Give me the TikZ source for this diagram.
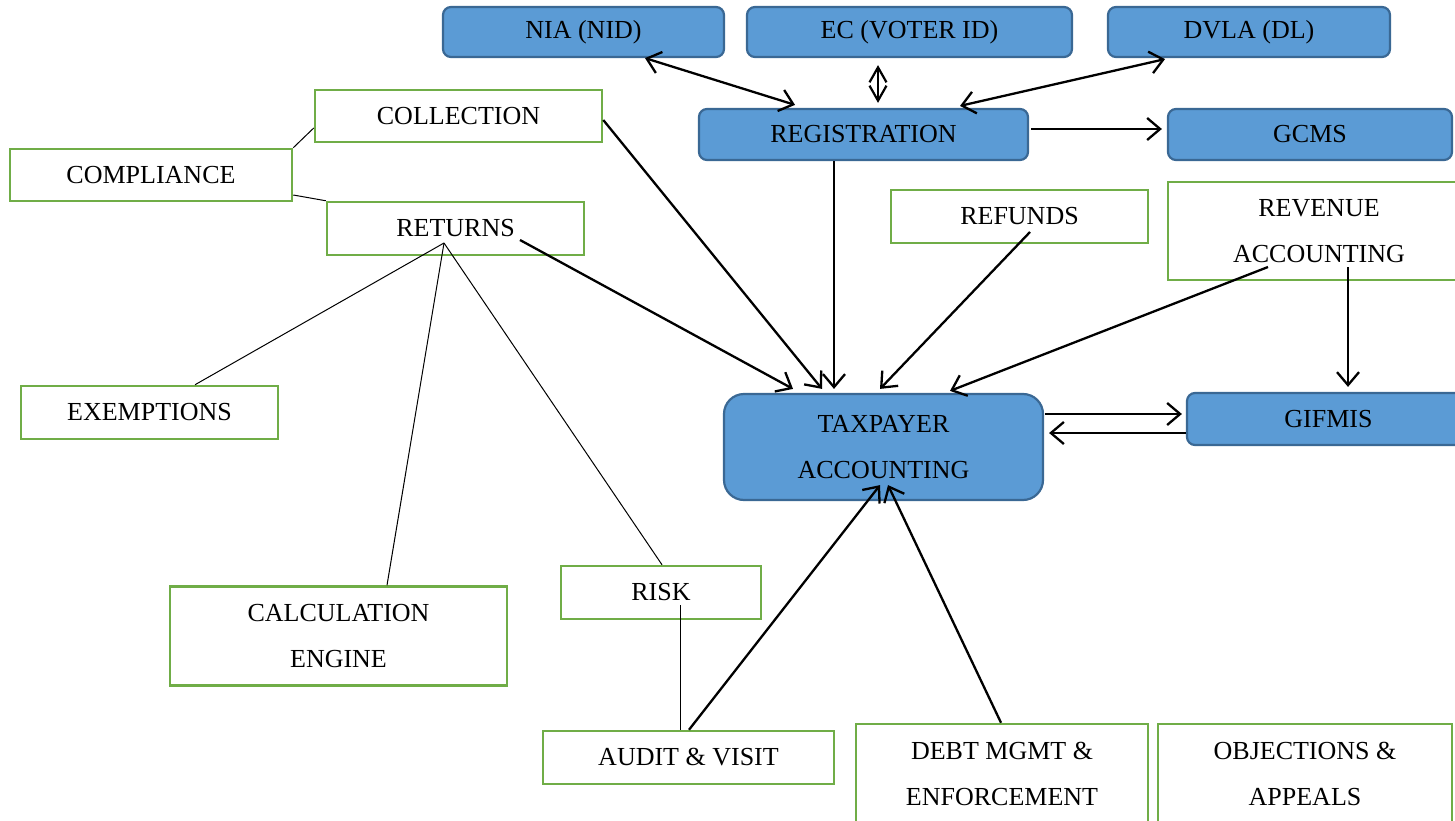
\documentclass[tikz,border=0pt]{standalone}
\usepackage{fontspec}
\setmainfont{Liberation Serif}
\usetikzlibrary{arrows.meta,calc}
\definecolor{bfill}{HTML}{5B9BD5}
\definecolor{bdraw}{HTML}{3A6894}
\definecolor{gdraw}{HTML}{70AD47}
\begin{document}
\begin{tikzpicture}[x=1pt,y=-1pt,
  every node/.style={font=\fontsize{26}{46}\selectfont, inner sep=0pt, align=center},
  bluebox/.style={draw=bdraw, fill=bfill, line width=2.2pt, rounded corners=8pt},
  greenbox/.style={draw=gdraw, fill=white, line width=2.5pt},
  arr/.style={line width=2.3pt, -{Straight Barb[length=13pt,width=22pt]}},
  darr/.style={line width=2.3pt, {Straight Barb[length=13pt,width=22pt]}-{Straight Barb[length=13pt,width=22pt]}},
  narr/.style={line width=2.2pt, {Straight Barb[length=15pt,width=17pt]}-{Straight Barb[length=15pt,width=17pt]}},
  thin/.style={line width=1pt}]
\clip (0,0) rectangle (1455,821);
\fill[white] (0,0) rectangle (1455,821);
% blue boxes
\node[bluebox, minimum width=281pt, minimum height=50pt] (nia) at (583.5,32) {NIA (NID)};
\node[bluebox, minimum width=325pt, minimum height=50pt] (ec) at (909.5,32) {EC (VOTER ID)};
\node[bluebox, minimum width=282pt, minimum height=50pt] (dvla) at (1249,32) {DVLA (DL)};
\node[bluebox, minimum width=329pt, minimum height=51pt] (reg) at (863.5,134.5) {REGISTRATION};
\node[bluebox, minimum width=284pt, minimum height=51pt] (gcms) at (1310,134.5) {GCMS};
\node[bluebox, rounded corners=20pt, minimum width=319pt, minimum height=106pt] (tax) at (883.5,447) {TAXPAYER\\ACCOUNTING};
\node[bluebox, minimum width=283pt, minimum height=52pt] (gif) at (1328.5,419) {GIFMIS};
% green boxes
\node[greenbox, minimum width=287pt, minimum height=52pt] (coll) at (458.5,116) {COLLECTION};
\node[greenbox, minimum width=282pt, minimum height=52pt] (comp) at (151,175) {COMPLIANCE};
\node[greenbox, minimum width=257pt, minimum height=53pt] (ret) at (455.5,228.5) {RETURNS};
\node[greenbox, minimum width=257pt, minimum height=53pt] (ref) at (1019.5,216.5) {REFUNDS};
\node[greenbox, minimum width=302pt, minimum height=98pt, text width=302pt] (rev) at (1319,231) {REVENUE\\ACCOUNTING};
\node[greenbox, minimum width=257pt, minimum height=53pt] (exem) at (149.5,412.5) {EXEMPTIONS};
\node[greenbox, minimum width=337pt, minimum height=99pt] (calc) at (338.5,636) {CALCULATION\\ENGINE};
\node[greenbox, minimum width=200pt, minimum height=53pt] (risk) at (661,592.5) {RISK};
\node[greenbox, minimum width=291pt, minimum height=53pt] (audit) at (688.5,757.5) {AUDIT \& VISIT};
\node[greenbox, minimum width=292pt, minimum height=100pt] (debt) at (1002,774) {DEBT MGMT \&\\ENFORCEMENT};
\node[greenbox, minimum width=294pt, minimum height=100pt] (obj) at (1305,774) {OBJECTIONS \&\\APPEALS};
% arrows
\draw[darr] ($(nia.south)+(61.5,0)$) -- ($(reg.north)+(-68.5,-3)$);
\draw[narr] ($(ec.south)+(-31.5,7)$) -- ($(reg.north)+(14.5,-5)$);
\draw[darr] ($(dvla.south)+(-84,1)$) -- ($(reg.north)+(96.5,-2)$);
\draw[arr] ($(reg.east)+(2,-5.5)$) -- ($(gcms.west)+(-5,-5.5)$);
\draw[arr] ($(reg.south)+(-29.5,0)$) -- ($(tax.north)+(-49.5,-4)$);
\draw[arr] ($(coll.east)+(0,4)$) -- ($(tax.north)+(-61.5,-4)$);
\draw[arr] ($(ret.center)+(64.5,11.5)$) -- ($(tax.north)+(-90.5,-4)$);
\draw[arr] ($(ref.center)+(10.5,15.5)$) -- ($(tax.north)+(-3.5,-4)$);
\draw[arr] ($(rev.center)+(-51,36)$) -- ($(tax.north)+(66.5,-2)$);
\draw[arr] ($(rev.center)+(29,36)$) -- ($(gif.north)+(19.5,-5)$);
\draw[arr] ($(tax.east)+(1,-33)$) -- ($(gif.west)+(-4,-5)$);
\draw[arr] ($(gif.west)+(0,14)$) -- ($(tax.east)+(5,-14)$);
\draw[arr] ($(audit.north)+(0.5,0)$) -- ($(tax.south)+(-3.5,-16)$);
\draw[arr] ($(debt.north)+(-1,0)$) -- ($(tax.south)+(4.5,-16)$);
% thin lines
\coordinate (apex) at ($(ret.center)+(-11.5,14.5)$);
\draw[thin] (comp.north east) -- ($(coll.west)+(0,12)$);
\draw[thin] ($(comp.east)+(0,20)$) -- (ret.north west);
\draw[thin] (apex) -- ($(exem.north)+(45.5,0)$);
\draw[thin] (apex) -- ($(calc.north)+(48.5,0)$);
\draw[thin] (apex) -- ($(risk.north)+(1,0)$);
\draw[thin] ($(risk.center)+(19,12.5)$) -- ($(audit.north)+(-8.5,0)$);
\end{tikzpicture}
\end{document}
